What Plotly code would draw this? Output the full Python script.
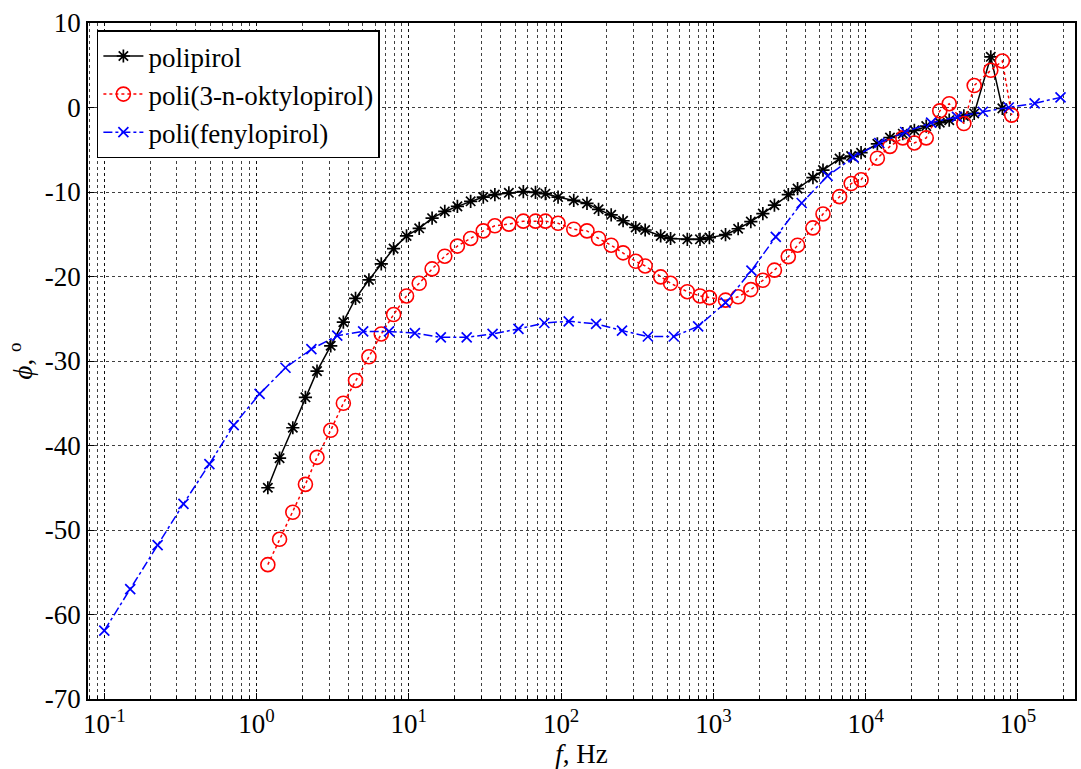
import plotly.graph_objects as go

# polipirol / poli(3-n-oktylopirol) frequencies (Hz)
f_pp = [1.186, 1.416, 1.730, 2.094, 2.495, 3.069, 3.715, 4.467, 5.470, 6.592,
        7.943, 9.66, 11.70, 14.22, 17.22, 20.84, 25.47, 30.83, 36.73, 45.39,
        56.49, 67.92, 78.89, 95.50, 121.1, 147.9, 176.2, 213.3, 255.3, 309.0,
        356.5, 450.8, 523.6, 674.5, 816.6, 941.9, 1202, 1455, 1762, 2113,
        2518, 3105, 3573, 4508, 5248, 6745, 8035, 9333, 11940, 14450,
        17540, 20890, 25000, 30690, 35400, 44160, 51640, 66370, 79070]
phi_pp = [-45.0, -41.5, -37.9, -34.3, -31.2, -28.2, -25.4, -22.6, -20.4, -18.5,
          -16.7, -15.2, -14.3, -13.1, -12.3, -11.7, -11.1, -10.6, -10.3, -10.1,
          -9.95, -10.05, -10.2, -10.6, -11.0, -11.35, -12.05, -12.7, -13.4, -14.2,
          -14.5, -15.2, -15.5, -15.6, -15.6, -15.4, -15.05, -14.35, -13.5, -12.55,
          -11.55, -10.3, -9.6, -8.3, -7.4, -6.05, -5.75, -5.35, -4.3, -3.55,
          -3.1, -2.7, -2.2, -1.8, -1.5, -1.0, -0.7, 6.0, -0.1]

f_pop = f_pp + [91000]
phi_pop = [-54.1, -51.1, -47.9, -44.6, -41.4, -38.2, -35.0, -32.3, -29.5, -26.8,
           -24.5, -22.3, -20.8, -19.1, -17.6, -16.4, -15.5, -14.6, -14.0, -13.8,
           -13.45, -13.45, -13.45, -13.7, -14.4, -14.6, -15.5, -16.3, -17.2, -18.2,
           -18.75, -20.05, -20.8, -21.8, -22.3, -22.5, -22.8, -22.4, -21.55, -20.45,
           -19.25, -17.65, -16.3, -14.25, -12.6, -10.55, -9.0, -8.55, -6.0, -4.6,
           -3.6, -4.2, -3.6, -0.4, 0.45, -1.9, 2.6, 4.4, 5.5, -0.9]

f_pfp = [0.1, 0.148, 0.224, 0.331, 0.490, 0.708, 1.047, 1.549, 2.291, 3.388,
         5.012, 7.413, 10.96, 16.22, 23.99, 35.48, 52.48, 77.62, 112.2, 169.8,
         251.2, 371.5, 549.5, 794.3, 1202, 1778, 2570, 3802, 5623, 8318,
         12300, 18200, 26920, 39810, 58880, 87100, 128800, 190500]
phi_pfp = [-61.9, -57.0, -51.8, -46.9, -42.2, -37.6, -33.9, -30.8, -28.6, -27.0,
           -26.5, -26.5, -26.7, -27.2, -27.2, -26.8, -26.2, -25.5, -25.3, -25.6,
           -26.4, -27.1, -27.1, -25.9, -23.1, -19.3, -15.3, -11.3, -8.1, -5.9,
           -4.2, -2.9, -1.8, -1.1, -0.5, 0.0, 0.5, 1.2]

x_tick_vals = [0.1, 1, 10, 100, 1000, 10000, 100000]
x_tick_text = ["10<sup>-1</sup>", "10<sup>0</sup>", "10<sup>1</sup>", "10<sup>2</sup>",
               "10<sup>3</sup>", "10<sup>4</sup>", "10<sup>5</sup>"]
y_tick_vals = [10, 0, -10, -20, -30, -40, -50, -60, -70]
y_tick_text = ["10", "0", "-10", "-20", "-30", "-40", "-50", "-60", "-70"]

FONT = "Liberation Serif, Times New Roman, serif"
FS = 27

fig = go.Figure()
fig.add_trace(go.Scatter(
    x=f_pp, y=phi_pp, name="polipirol", mode="lines+markers",
    line=dict(color="black", width=1.5, dash="solid"),
    marker=dict(symbol="asterisk-open", size=11, color="black",
                line=dict(color="black", width=1.7))))
fig.add_trace(go.Scatter(
    x=f_pop, y=phi_pop, name="poli(3-n-oktylopirol)", mode="lines+markers",
    line=dict(color="red", width=1.5, dash="dot"),
    marker=dict(symbol="circle-open", size=14, color="red",
                line=dict(color="red", width=1.6))))
fig.add_trace(go.Scatter(
    x=f_pfp, y=phi_pfp, name="poli(fenylopirol)", mode="lines+markers",
    line=dict(color="blue", width=1.5, dash="dashdot"),
    marker=dict(symbol="x-thin-open", size=10, color="blue",
                line=dict(color="blue", width=1.7))))

grid = dict(gridcolor="rgba(0,0,0,0.75)", gridwidth=1, griddash="dot")

fig.update_xaxes(
    type="log", range=[-1.107, 5.375],
    tickvals=x_tick_vals, ticktext=x_tick_text,
    showline=True, linecolor="black", linewidth=1.5, mirror=True,
    ticks="inside", ticklen=6, tickcolor="black",
    showgrid=True, **grid,
    minor=dict(dtick="D1", showgrid=True, ticks="inside", ticklen=3,
               tickcolor="black", gridcolor="rgba(0,0,0,0.75)", gridwidth=1,
               griddash="dot"),
    tickfont=dict(family=FONT, size=FS, color="black"),
    title=dict(text="<i>f</i>, Hz", font=dict(family=FONT, size=FS, color="black"),
               standoff=0),
    zeroline=False,
)
fig.update_yaxes(
    range=[-70, 10], tickvals=y_tick_vals, ticktext=y_tick_text,
    showline=True, linecolor="black", linewidth=1.5, mirror=True,
    ticks="inside", ticklen=6, tickcolor="black",
    showgrid=True, **grid,
    tickfont=dict(family=FONT, size=FS, color="black"),
    title=dict(text="<i>ϕ</i>, <sup>o</sup>", font=dict(family=FONT, size=FS, color="black"),
               standoff=4),
    zeroline=False,
)

fig.update_layout(
    width=1081, height=769,
    margin=dict(l=88, r=4, t=23, b=70),
    plot_bgcolor="white", paper_bgcolor="white",
    font=dict(family=FONT, size=FS, color="black"),
    showlegend=True,
    legend=dict(x=0.009, y=0.989, xanchor="left", yanchor="top",
                bgcolor="white", bordercolor="black", borderwidth=1.5,
                font=dict(family=FONT, size=27, color="black"),
                itemwidth=40, tracegroupgap=0),
)

fig.write_html("out.html")
